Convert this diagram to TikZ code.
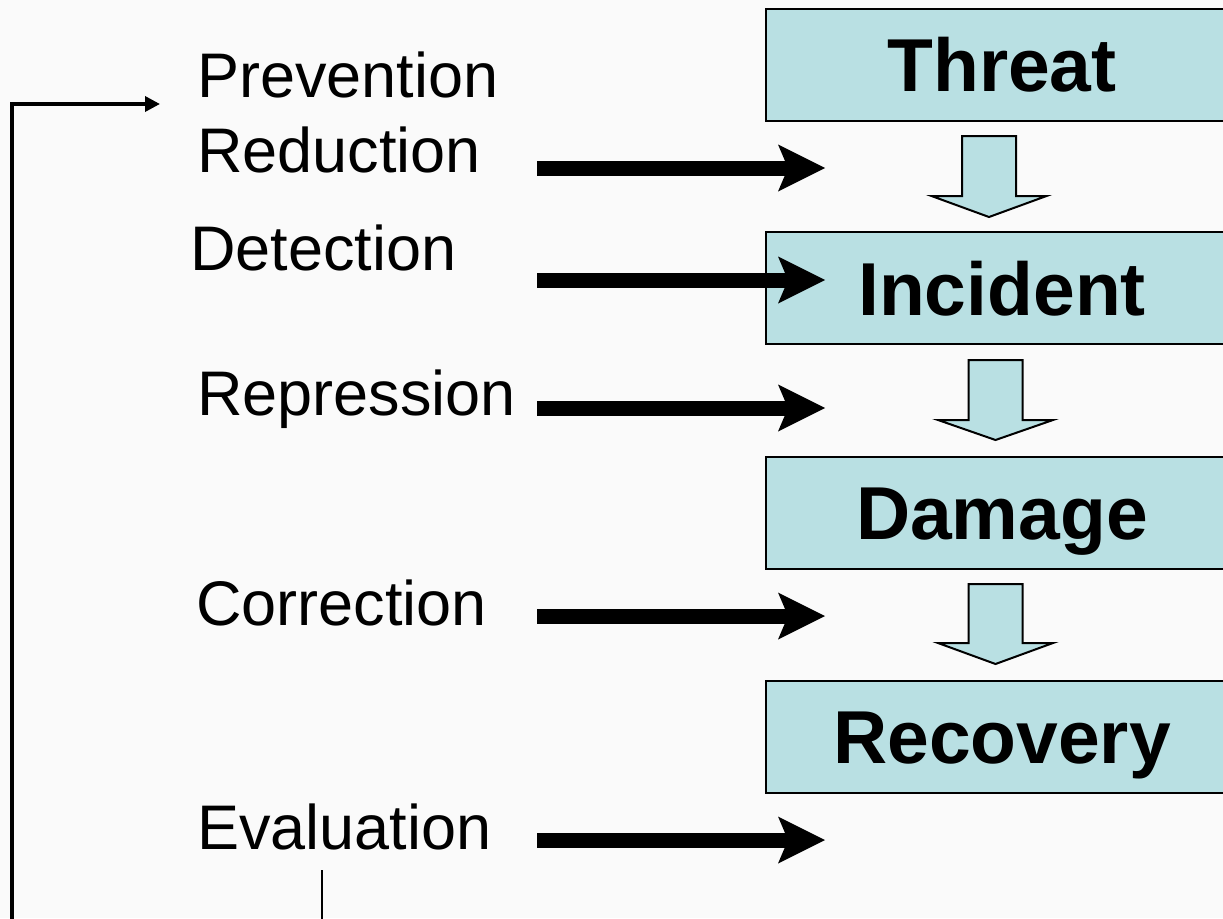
\documentclass[tikz,border=0pt]{standalone}
\usepackage{fontspec}
\setmainfont{Liberation Sans}
\usetikzlibrary{arrows.meta}
\definecolor{pagebg}{RGB}{250,250,250}
\definecolor{stagefill}{RGB}{185,224,227}

% wide hollow arrow between two stages: centre x, shaft top, head line, tip
\newcommand\stagearrow[4]{%
  \draw[stagestep] (#1-27,#2) -- (#1+27,#2) -- (#1+27,#3) -- (#1+57.5,#3)
    -- (#1,#4) -- (#1-57.5,#3) -- (#1-27,#3) -- cycle;}

\begin{document}
\begin{tikzpicture}[x=1pt,y=-1pt,
  stage/.style={draw=black, line width=2pt, fill=stagefill,
    minimum width=472pt, minimum height=112pt, inner sep=0pt,
    text height=54pt, text depth=0pt,
    font=\fontsize{75}{80}\selectfont\bfseries},
  measure/.style={anchor=base west, inner sep=0pt,
    font=\fontsize{63}{70}\selectfont},
  thickarrow/.style={line width=15pt,
    -{Stealth[length=47pt,width=47pt,inset=10pt,line width=0pt]}},
  stagestep/.style={draw=black, line width=2pt, fill=stagefill, line join=miter},
  feedback/.style={line width=3.5pt, -{Triangle[length=15pt,width=15pt]}},
  tick/.style={line width=2.5pt}]

\useasboundingbox (0,0) rectangle (1223,918);
\clip (0,0) rectangle (1223,918);
\fill[pagebg] (0,0) rectangle (1223,918);

% stages of an incident
\node[stage] (threat)   at (1002,64.5)  {Threat};
\node[stage] (incident) at (1002,288)   {Incident};
\node[stage] (damage)   at (1002,512.5) {Damage};
\node[stage] (recovery) at (1002,736.5) {Recovery};

\stagearrow{989}{136}{196}{217}
\stagearrow{995.5}{360}{420}{440}
\stagearrow{995.5}{584}{643}{664}

% measures
\node[measure] (prev) at (197,97)  {Prevention};
\node[measure] (redu) at (197,172) {Reduction};
\node[measure] (dete) at (190,270) {Detection};
\node[measure] (repr) at (197,415) {Repression};
\node[measure] (corr) at (196,625) {Correction};
\node[measure] (eval) at (197,849) {Evaluation};

% where each measure acts
\coordinate (reduS) at (537,168); \coordinate (reduE) at (825,168);
\coordinate (deteS) at (537,280); \coordinate (deteE) at (825,280);
\coordinate (reprS) at (537,408); \coordinate (reprE) at (825,408);
\coordinate (corrS) at (537,616); \coordinate (corrE) at (825,616);
\coordinate (evalS) at (537,840); \coordinate (evalE) at (825,840);

\draw[thickarrow] (reduS) -- (reduE);
\draw[thickarrow] (deteS) -- (deteE);
\draw[thickarrow] (reprS) -- (reprE);
\draw[thickarrow] (corrS) -- (corrE);
\draw[thickarrow] (evalS) -- (evalE);

% feedback from evaluation back to prevention
\coordinate (fbBottom) at (12,920);
\coordinate (fbCorner) at (12,104);
\coordinate (fbEnd)    at (160,104);
\draw[feedback] (fbBottom) -- (fbCorner) -- (fbEnd);

\coordinate (evalTop)  at (322,870);
\coordinate (evalDown) at (322,920);
\draw[tick] (evalTop) -- (evalDown);
\end{tikzpicture}
\end{document}
